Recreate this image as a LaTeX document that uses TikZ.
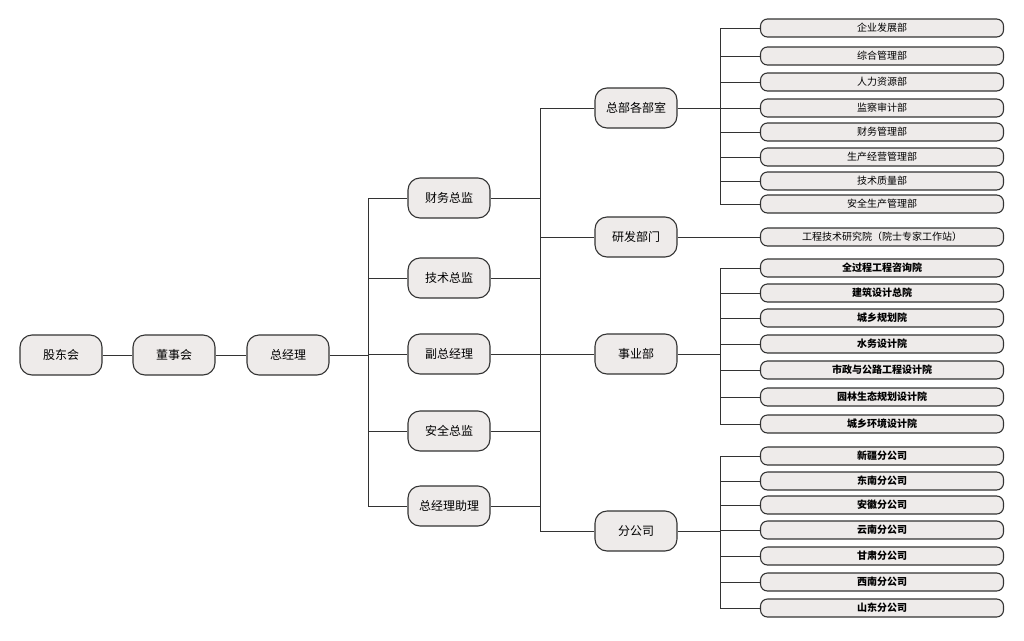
\documentclass[tikz,border=0pt]{standalone}
\usepackage{fontspec}
\setmainfont{Noto Sans CJK SC}
\definecolor{bx}{HTML}{EEEBEA}
\definecolor{ln}{HTML}{333333}
\begin{document}
\begin{tikzpicture}[x=1pt,y=-1pt,
 big/.style={draw=ln,line width=1.1pt,fill=bx,rounded corners=12pt,minimum width=82pt,minimum height=40pt,inner sep=0pt,font=\fontsize{12}{14}\selectfont},
 sm/.style={draw=ln,line width=1.1pt,fill=bx,rounded corners=7pt,minimum width=243pt,minimum height=18pt,inner sep=0pt,font=\fontsize{10}{12}\selectfont},
 smb/.style={sm,font=\fontsize{10}{12}\selectfont\bfseries},
 wire/.style={draw=ln,line width=0.8pt}]
\useasboundingbox (0,0) rectangle (1024,640);
\node[big] (a) at (61,355) {股东会};
\node[big] (b) at (174,355) {董事会};
\node[big] (c) at (288,355) {总经理};
\draw[wire] (a) -- (b); \draw[wire] (b) -- (c);
\foreach \n/\y/\t in {d1/198/财务总监,d2/278/技术总监,d3/354/副总经理,d4/431/安全总监,d5/506/总经理助理}{
 \node[big] (\n) at (449,\y) {\t};
 \coordinate (t\n) at (368,\y);
 \coordinate (r\n) at (540,\y);
 \draw[wire] (t\n) -- (\n); \draw[wire] (\n) -- (r\n);}
\draw[wire] (c) -- (368,355);
\draw[wire] (td1) -- (td5);
\foreach \n/\y/\t in {e1/108/总部各部室,e2/237/研发部门,e3/354/事业部,e4/531/分公司}{
 \node[big] (\n) at (636,\y) {\t};
 \coordinate (l\n) at (540,\y);
 \draw[wire] (l\n) -- (\n);}
\draw[wire] (le1) -- (le4);
\newcommand\grp[4]{%
 \coordinate (g#1a) at (720,#2); \coordinate (g#1b) at (720,#3);
 \draw[wire] (g#1a) -- (g#1b);
 \foreach \y/\t [count=\i] in {#4}{
  \node[\ifnum#1>2 smb\else sm\fi] (f#1\i) at (882,\y) {\t};
  \coordinate (h#1\i) at (720,\y);
  \draw[wire] (h#1\i) -- (f#1\i);}}
\grp{1}{28}{204}{28/企业发展部,56/综合管理部,82/人力资源部,108/监察审计部,132/财务管理部,157/生产经营管理部,181/技术质量部,204/安全生产管理部}
\coordinate (m1) at (720,108); \draw[wire] (e1) -- (m1);
\node[sm] (f2) at (882,237) {工程技术研究院（院士专家工作站）};
\draw[wire] (e2) -- (f2);
\grp{3}{268}{424}{268/全过程工程咨询院,293/建筑设计总院,318/城乡规划院,344/水务设计院,370/市政与公路工程设计院,397/园林生态规划设计院,424/城乡环境设计院}
\coordinate (m3) at (720,354); \draw[wire] (e3) -- (m3);
\grp{4}{456}{608}{456/新疆分公司,481/东南分公司,505/安徽分公司,530/云南分公司,556/甘肃分公司,582/西南分公司,608/山东分公司}
\coordinate (m4) at (720,531); \draw[wire] (e4) -- (m4);
\end{tikzpicture}
\end{document}
